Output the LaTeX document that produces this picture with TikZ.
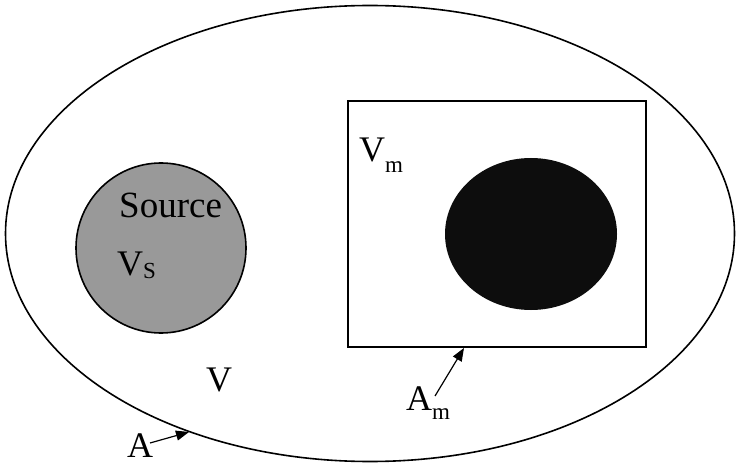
\documentclass[tikz,border=0pt]{standalone}
\usepackage{fontspec}
\setmainfont{Liberation Serif}
\usetikzlibrary{shapes.geometric,arrows.meta}
\newcommand{\bigf}{\fontsize{36}{36}\selectfont}
\newcommand{\srcf}{\fontsize{37}{37}\selectfont}
\newcommand{\subf}{\fontsize{23}{23}\selectfont}
\tikzset{
  outline/.style={draw=black, line width=1.6pt},
  lbl/.style={inner sep=0pt, anchor=base west, font=\bigf},
  pointer/.style={-{Triangle[length=13pt,width=10pt]}, line width=1.2pt},
}
\begin{document}
\begin{tikzpicture}[x=1pt,y=-1pt]
\useasboundingbox (0,0) rectangle (736,465);
\node[outline, ellipse, minimum width=729pt, minimum height=456pt, inner sep=0pt] (outer) at (370,233.5) {};
\node[outline, rectangle, minimum width=298pt, minimum height=246pt, inner sep=0pt] (box) at (497,224) {};
\node[outline, circle, fill=black!40, minimum size=170pt, inner sep=0pt] (src) at (161,248) {};
\node[ellipse, fill=black!95, minimum width=172pt, minimum height=152pt, inner sep=0pt] (sink) at (531,234) {};
\node[lbl, font=\srcf] (srclbl) at (119,218) {Source};
\node[lbl] (vs) at (117,275) {V\raisebox{-3pt}{\subf S}};
\node[lbl] (vm) at (359,162) {V\raisebox{-11pt}{\subf m}};
\node[lbl] (v) at (206,391) {V};
\node[lbl] (am) at (406,410) {A\raisebox{-9pt}{\subf m}};
\node[lbl] (a) at (127,457) {A};
\coordinate (amtip) at (464,348);
\coordinate (atip) at (189,432);
\coordinate (amstart) at (435,396);
\coordinate (astart) at (150,443);
\draw[pointer] (amstart) -- (amtip);
\draw[pointer] (astart) -- (atip);
\end{tikzpicture}
\end{document}
